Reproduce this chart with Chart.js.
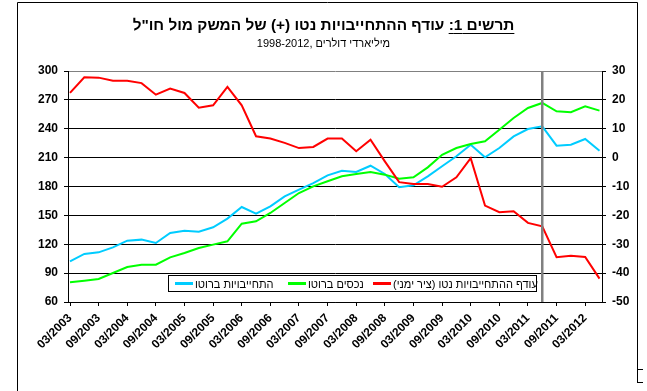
<!DOCTYPE html>
<html>
<head>
<meta charset="utf-8">
<script src="https://cdn.jsdelivr.net/npm/chart.js@4.4.0/dist/chart.umd.min.js"></script>
<style>
  body { margin: 0; background: #fff; }
  #wrap { position: relative; width: 647px; height: 391px; font-family: "Liberation Sans", Arial, sans-serif; }
  #chart { position: absolute; left: 0; top: 0; }
  #title { position: absolute; left: 0; top: 15px; width: 647px; text-align: center; font-size: 15.4px; font-weight: bold; line-height: 20px; }
  #title u { text-decoration-thickness: 1px; text-underline-offset: 3px; }
  #subtitle { position: absolute; left: 0; top: 36px; width: 647px; text-align: center; font-size: 11px; line-height: 14px; }
  #legend { position: absolute; left: 168px; top: 275px; width: 369px; height: 17px; border: 1px solid #000; box-sizing: border-box; background: #fff; }
  .legend-item { position: absolute; top: 0; height: 15px; display: flex; align-items: center; font-size: 11px; white-space: nowrap; }
  .legend-line { width: 18px; height: 3px; margin-right: 2px; }
</style>
</head>
<body>
<div id="wrap">
  <canvas id="chart" width="647" height="391"></canvas>
  <div id="title" dir="rtl"><u>תרשים 1:</u> עודף ההתחייבויות נטו (+) של המשק מול חו"ל</div>
  <div id="subtitle" dir="ltr">1998-2012, מיליארדי דולרים</div>
  <div id="legend"></div>
</div>
<script>
  // quarterly observations, 03/2003 - 06/2012
  const quarters = [
    '03/2003', '06/2003', '09/2003', '12/2003', '03/2004', '06/2004', '09/2004', '12/2004',
    '03/2005', '06/2005', '09/2005', '12/2005', '03/2006', '06/2006', '09/2006', '12/2006',
    '03/2007', '06/2007', '09/2007', '12/2007', '03/2008', '06/2008', '09/2008', '12/2008',
    '03/2009', '06/2009', '09/2009', '12/2009', '03/2010', '06/2010', '09/2010', '12/2010',
    '03/2011', '06/2011', '09/2011', '12/2011', '03/2012', '06/2012'
  ];

  // gross liabilities (left axis)
  const liabilities = [
    102.3, 109.9, 111.6, 116.8, 123.7, 124.8, 121.3, 131.7, 134.1, 133.0,
    137.6, 146.6, 158.7, 151.8, 159.4, 169.8, 176.7, 183.6, 191.6, 196.4,
    195.1, 201.6, 193.0, 179.2, 181.2, 190.6, 201.0, 211.4, 223.4, 210.3,
    220.0, 232.1, 239.7, 242.5, 222.4, 223.4, 229.4, 217.2
  ];

  // gross assets (left axis)
  const assets = [
    80.4, 82.1, 83.9, 90.1, 96.4, 98.8, 98.8, 106.4, 110.9, 116.1,
    119.6, 123.1, 141.4, 143.8, 152.5, 162.9, 173.2, 180.2, 185.4, 190.6,
    193.0, 195.1, 192.3, 188.1, 189.6, 199.9, 213.0, 220.0, 224.2, 227.0,
    239.0, 251.2, 261.6, 266.8, 258.1, 257.1, 263.3, 258.8
  ];

  // net liabilities surplus (right axis)
  const netLiabilities = [
    22.4, 27.8, 27.7, 26.6, 26.6, 25.8, 21.8, 23.9, 22.4, 17.3,
    18.1, 24.5, 18.1, 7.4, 6.6, 5.1, 3.3, 3.7, 6.6, 6.6,
    2.2, 6.2, -1.3, -8.5, -9.1, -9.1, -10.1, -6.8, -0.2, -16.6,
    -18.9, -18.6, -22.6, -23.8, -34.5, -34.0, -34.4, -41.9
  ];

  const leftTicks = [60, 90, 120, 150, 180, 210, 240, 270, 300];
  const rightTicks = [-50, -40, -30, -20, -10, 0, 10, 20, 30];
  const markerQuarter = '06/2011';

  const seriesNames = ['התחייבויות ברוטו', 'נכסים ברוטו', 'עודף ההתחייבויות נטו (ציר ימני)'];
  const seriesColors = ['#00ccff', '#00ff00', '#ff0000'];

  const FONT = '"Liberation Sans", Arial, sans-serif';

  function toPoints(values) {
    return values.map((v, i) => ({ x: i, y: v }));
  }

  // vertical gray line at the marker quarter
  const markerLine = {
    id: 'markerLine',
    afterDatasetsDraw(chart) {
      const x = chart.scales.x.getPixelForValue(quarters.indexOf(markerQuarter));
      const area = chart.chartArea;
      const ctx = chart.ctx;
      ctx.save();
      ctx.strokeStyle = '#808080';
      ctx.lineWidth = 2.5;
      ctx.beginPath();
      ctx.moveTo(x, area.top);
      ctx.lineTo(x, area.bottom);
      ctx.stroke();
      ctx.restore();
    }
  };

  // outer frame of the figure
  const frame = {
    id: 'frame',
    afterDraw(chart) {
      const ctx = chart.ctx;
      ctx.save();
      ctx.strokeStyle = '#000';
      ctx.lineWidth = 1;
      ctx.beginPath();
      ctx.moveTo(17.5, 391);
      ctx.lineTo(17.5, 2.5);
      ctx.lineTo(637.5, 2.5);
      ctx.lineTo(637.5, 383);
      ctx.moveTo(637.5, 369.5);
      ctx.lineTo(643, 369.5);
      ctx.moveTo(637.5, 382.5);
      ctx.lineTo(643, 382.5);
      ctx.stroke();
      ctx.restore();
    }
  };

  const whiteBg = {
    id: 'whiteBg',
    beforeDraw(chart) {
      const ctx = chart.ctx;
      ctx.save();
      ctx.fillStyle = '#fff';
      ctx.fillRect(0, 0, chart.width, chart.height);
      ctx.restore();
    }
  };

  function buildChart() {
    const ctx = document.getElementById('chart').getContext('2d');
    return new Chart(ctx, {
      type: 'line',
      data: {
        datasets: [
          {
            label: seriesNames[0],
            data: toPoints(liabilities),
            borderColor: seriesColors[0],
            yAxisID: 'y',
            order: 2
          },
          {
            label: seriesNames[1],
            data: toPoints(assets),
            borderColor: seriesColors[1],
            yAxisID: 'y',
            order: 1
          },
          {
            label: seriesNames[2],
            data: toPoints(netLiabilities),
            borderColor: seriesColors[2],
            yAxisID: 'y1',
            order: 0
          }
        ]
      },
      options: {
        responsive: false,
        animation: false,
        devicePixelRatio: 1,
        layout: { padding: { top: 71, left: 0, right: 0, bottom: 0 } },
        elements: {
          line: { borderWidth: 2, tension: 0 },
          point: { radius: 0 }
        },
        plugins: {
          legend: { display: false },
          title: { display: false },
          tooltip: { enabled: false }
        },
        scales: {
          x: {
            type: 'linear',
            min: -0.14,
            max: 37.175,
            afterBuildTicks(scale) {
              scale.ticks = quarters
                .map((q, i) => ({ value: i }))
                .filter(t => t.value % 2 === 0);
            },
            afterFit(scale) { scale.height = 89; },
            border: { display: true, color: '#000', width: 1 },
            grid: { drawOnChartArea: false, drawTicks: true, tickLength: 4, color: '#000' },
            ticks: {
              autoSkip: false,
              minRotation: 45,
              maxRotation: 45,
              padding: 5,
              color: '#000',
              font: { family: FONT, size: 12, weight: 'bold' },
              callback: value => quarters[value]
            }
          },
          y: {
            position: 'left',
            min: 60,
            max: 300,
            afterBuildTicks(scale) {
              scale.ticks = leftTicks.map(v => ({ value: v }));
            },
            afterFit(scale) { scale.width = 68; },
            border: { display: true, color: '#000', width: 1 },
            grid: {
              drawTicks: true,
              tickLength: 4,
              tickColor: '#000',
              color: c => (c.tick && c.tick.value === 300 ? '#808080' : '#000')
            },
            ticks: {
              padding: 6,
              color: '#000',
              font: { family: FONT, size: 12, weight: 'bold' }
            }
          },
          y1: {
            position: 'right',
            min: -50,
            max: 30,
            afterBuildTicks(scale) {
              scale.ticks = rightTicks.map(v => ({ value: v }));
            },
            afterFit(scale) { scale.width = 45; },
            border: { display: true, color: '#000', width: 1 },
            grid: { drawOnChartArea: false, drawTicks: true, tickLength: 4, color: '#000' },
            ticks: {
              padding: 6,
              color: '#000',
              font: { family: FONT, size: 12, weight: 'bold' }
            }
          }
        }
      },
      plugins: [whiteBg, markerLine, frame]
    });
  }

  function buildLegend(chart) {
    // left offsets of the three entries inside the legend box
    const slots = [6, 119, 204];
    const legend = document.getElementById('legend');
    legend.innerHTML = '';
    chart.data.datasets.forEach((ds, i) => {
      const item = document.createElement('div');
      item.className = 'legend-item';
      item.style.left = slots[i] + 'px';
      item.innerHTML = `
        <span class="legend-line" style="background:${ds.borderColor}"></span>
        <span dir="rtl">${ds.label}</span>
      `;
      legend.appendChild(item);
    });
  }

  const chart = buildChart();
  buildLegend(chart);
</script>
</body>
</html>
